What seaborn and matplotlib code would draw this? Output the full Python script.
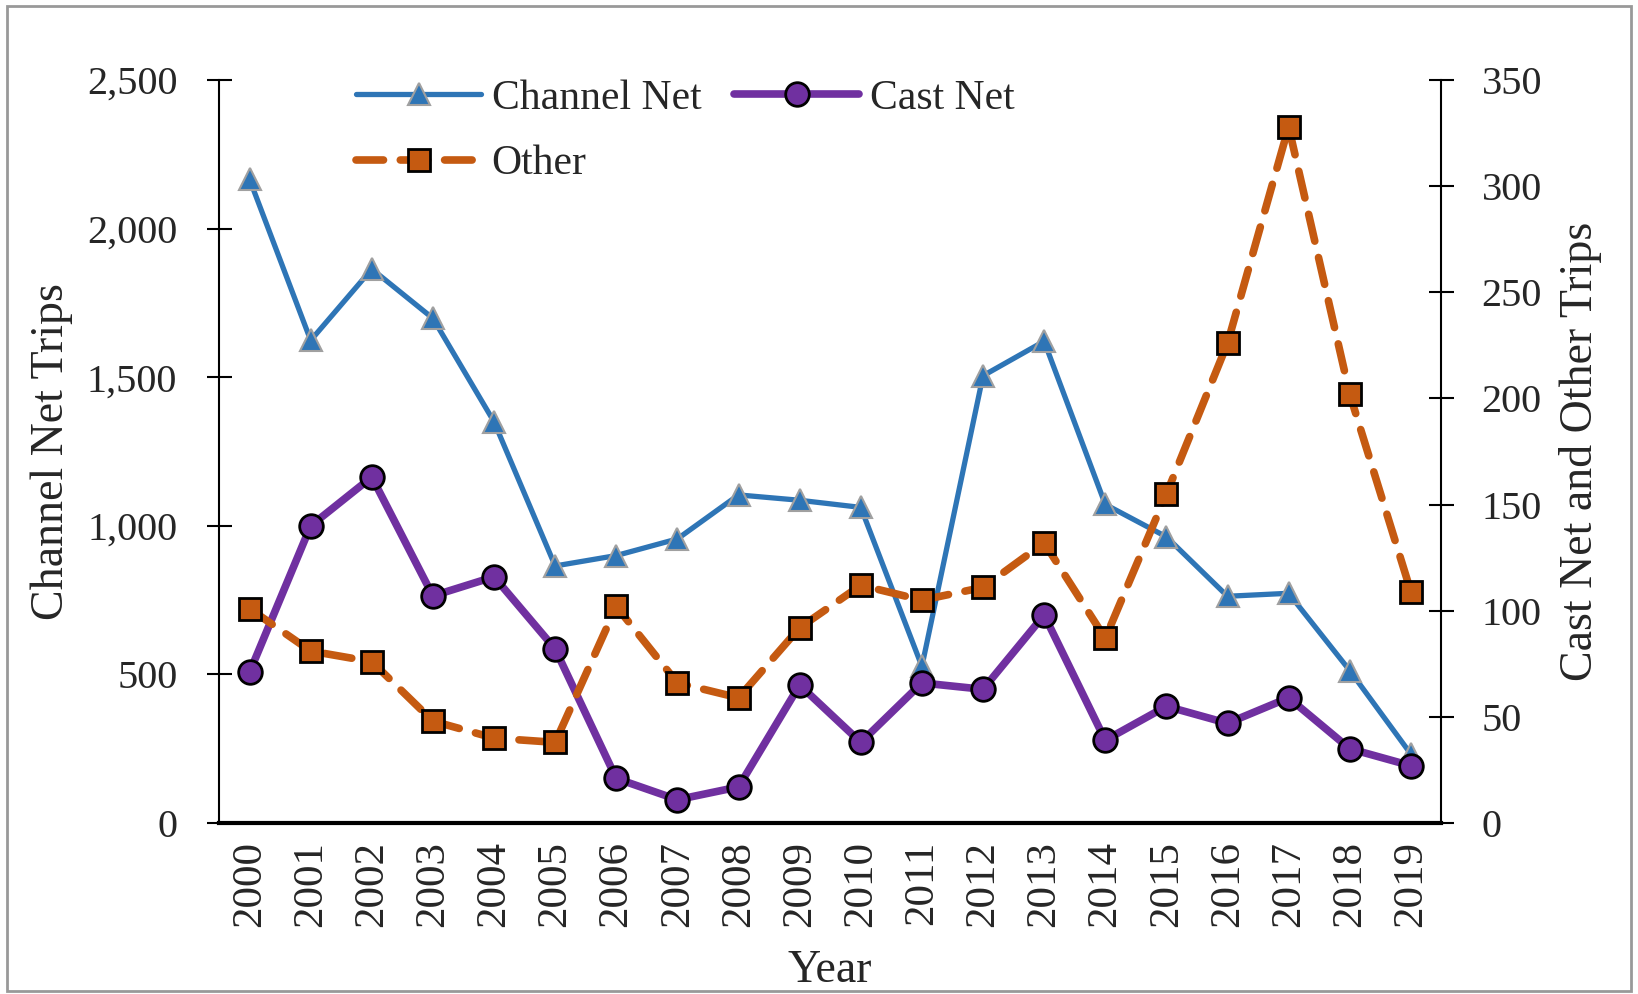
import numpy as np
import pandas as pd
import matplotlib
matplotlib.use("Agg")
import matplotlib.pyplot as plt
import seaborn as sns
from matplotlib.ticker import FuncFormatter, MultipleLocator, FixedLocator

years = [str(y) for y in range(2000, 2020)]
channel_net = [2166, 1624, 1864, 1698, 1350, 865, 900, 956, 1104, 1086,
               1062, 527, 1505, 1621, 1072, 963, 763, 773, 513, 232]
cast_net = [71, 140, 163, 107, 116, 82, 21, 11, 17, 65,
            38, 66, 63, 98, 39, 55, 47, 59, 35, 27]
other = [101, 81, 76, 48, 40, 38, 102, 66, 59, 92,
         112, 105, 111, 132, 87, 155, 226, 328, 202, 109]

df = pd.DataFrame({"pos": np.arange(len(years)), "year": years,
                   "Channel Net": channel_net, "Cast Net": cast_net, "Other": other})

sns.set_theme(style="white")
plt.rcParams["font.family"] = ["Liberation Serif", "DejaVu Serif"]

fig = plt.figure(figsize=(16.38, 9.94), dpi=100)
ax = fig.add_axes([0.1337, 0.172, 0.7463, 0.7475])
ax2 = ax.twinx()

blue = "#2E75B6"
purple = "#7030A0"
orange = "#C55A11"

sns.lineplot(data=df, x="pos", y="Channel Net", ax=ax, color=blue, lw=3.8,
             marker="^", markersize=16, markeredgecolor="#A0A0A0", markeredgewidth=1.5,
             label="Channel Net", legend=False)
sns.lineplot(data=df, x="pos", y="Cast Net", ax=ax2, color=purple, lw=5.5,
             marker="o", markersize=17, markeredgecolor="black", markeredgewidth=2,
             label="Cast Net", legend=False)
sns.lineplot(data=df, x="pos", y="Other", ax=ax2, color=orange, lw=5.5,
             marker="s", markersize=16, markeredgecolor="black", markeredgewidth=2,
             label="Other", legend=False)
ax2.lines[1].set_dashes([3.6, 2.2])
ax2.lines[1].set_dash_capstyle("round")

ax.set_xlim(-0.5, len(years) - 0.5)
ax.set_ylim(0, 2500)
ax2.set_ylim(0, 350)
ax.yaxis.set_major_locator(MultipleLocator(500))
ax2.yaxis.set_major_locator(MultipleLocator(50))
ax.yaxis.set_major_formatter(FuncFormatter(lambda v, p: f"{int(v):,}"))

ax.xaxis.set_major_locator(FixedLocator(np.arange(-0.5, len(years), 1.0)))
ax.set_xticklabels([])
ax.xaxis.set_minor_locator(FixedLocator(np.arange(len(years))))
ax.set_xticklabels(years, minor=True, rotation=90)

ax.tick_params(axis="x", which="major", direction="inout", length=22, width=2, color="black")
ax.tick_params(axis="x", which="minor", length=0, labelsize=31, pad=13)
ax.tick_params(axis="y", direction="inout", length=18, width=1.5, labelsize=29, pad=21, color="black", left=True)
ax2.tick_params(axis="y", direction="inout", length=18, width=1.5, labelsize=29, pad=20, color="black", right=True)

for a in (ax, ax2):
    a.spines["top"].set_visible(False)
    for s in ("left", "right", "bottom"):
        a.spines[s].set_color("black")
ax.spines["left"].set_linewidth(1.5)
ax.spines["right"].set_visible(False)
ax2.spines["left"].set_visible(False)
ax2.spines["bottom"].set_visible(False)
ax2.spines["right"].set_linewidth(1.5)
ax.spines["bottom"].set_linewidth(3)
ax.grid(False)
ax2.grid(False)

ax.set_xlabel("Year", fontsize=33, labelpad=16)
ax.set_ylabel("Channel Net Trips", fontsize=33, labelpad=10)
ax2.set_ylabel("Cast Net and Other Trips", fontsize=33, labelpad=12)

h1, l1 = ax.get_legend_handles_labels()
h2, l2 = ax2.get_legend_handles_labels()
handles = [h1[0], h2[1], h2[0]]
labels = [l1[0], l2[1], l2[0]]
fig.legend(handles, labels, ncol=2, loc="upper left", bbox_to_anchor=(0.1945, 0.958),
           frameon=False, fontsize=30, handlelength=3.0, columnspacing=0.8,
           handletextpad=0.25, labelspacing=0.65)

fig.patches.append(plt.Rectangle((0.004, 0.003), 0.992, 0.991, transform=fig.transFigure,
                                 fill=False, edgecolor="#999999", lw=2))

fig.savefig("out.png", dpi=100)
